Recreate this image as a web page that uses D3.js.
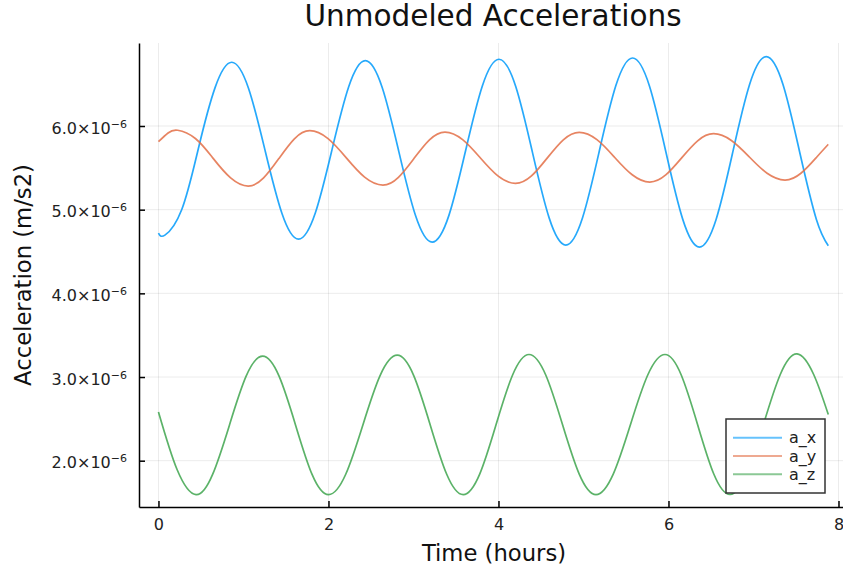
<!DOCTYPE html>
<html><head><meta charset="utf-8">
<script src="https://cdn.jsdelivr.net/npm/d3@7"></script>
<style>
body{margin:0;background:#fff}
svg{display:block;font-family:"DejaVu Sans",sans-serif}
</style>
</head><body>
<svg id="chart" width="843" height="568"></svg>
<script>
// ---- data (acceleration in units of 1e-6 m/s2, time in hours) ----
const seriesNames = ["a_x", "a_y", "a_z"];
const seriesColors = ["#009AFA", "#E36F47", "#3EA44E"];

const timeX = [0, 0.076, 0.273, 0.469, 0.666, 0.862, 1.059, 1.255, 1.452, 1.648, 1.845, 2.041, 2.238, 2.434, 2.631, 2.827, 3.024, 3.220, 3.417, 3.613, 3.810, 4.006, 4.203, 4.399, 4.596, 4.792, 4.989, 5.185, 5.382, 5.578, 5.775, 5.971, 6.168, 6.364, 6.561, 6.757, 6.954, 7.150, 7.347, 7.543, 7.740, 7.880];
const accelX = [4.720, 4.696, 4.999, 5.729, 6.459, 6.762, 6.452, 5.705, 4.958, 4.648, 4.960, 5.715, 6.469, 6.781, 6.463, 5.697, 4.930, 4.612, 4.932, 5.705, 6.478, 6.798, 6.473, 5.688, 4.902, 4.577, 4.904, 5.695, 6.486, 6.813, 6.482, 5.683, 4.884, 4.553, 4.886, 5.691, 6.496, 6.829, 6.496, 5.690, 4.884, 4.570];

const timeY = [0, 0.113, 0.226, 0.434, 0.641, 0.849, 1.056, 1.237, 1.418, 1.599, 1.780, 1.995, 2.210, 2.425, 2.640, 2.823, 3.005, 3.188, 3.370, 3.578, 3.785, 3.993, 4.200, 4.388, 4.575, 4.763, 4.950, 5.158, 5.365, 5.573, 5.780, 5.968, 6.155, 6.343, 6.530, 6.740, 6.950, 7.160, 7.370, 7.558, 7.745, 7.880];
const accelY = [5.812, 5.916, 5.949, 5.851, 5.616, 5.380, 5.282, 5.379, 5.613, 5.847, 5.944, 5.849, 5.619, 5.389, 5.294, 5.387, 5.611, 5.835, 5.928, 5.838, 5.621, 5.404, 5.314, 5.403, 5.619, 5.835, 5.924, 5.837, 5.627, 5.417, 5.330, 5.415, 5.619, 5.823, 5.908, 5.827, 5.631, 5.435, 5.354, 5.435, 5.630, 5.781];

const timeZ = [0, 0.220, 0.441, 0.637, 0.834, 1.030, 1.226, 1.420, 1.614, 1.807, 2.001, 2.203, 2.405, 2.607, 2.809, 3.003, 3.197, 3.391, 3.585, 3.779, 3.972, 4.166, 4.359, 4.556, 4.753, 4.950, 5.147, 5.350, 5.553, 5.756, 5.959, 6.150, 6.342, 6.533, 6.724, 6.921, 7.118, 7.315, 7.512, 7.708, 7.880];
const accelZ = [2.583, 1.892, 1.594, 1.836, 2.422, 3.007, 3.249, 3.007, 2.422, 1.836, 1.594, 1.838, 2.428, 3.017, 3.261, 3.017, 2.428, 1.838, 1.594, 1.839, 2.432, 3.024, 3.269, 3.024, 2.432, 1.839, 1.594, 1.839, 2.432, 3.024, 3.269, 3.024, 2.433, 1.841, 1.596, 1.842, 2.436, 3.030, 3.276, 3.030, 2.551];

const xTicks = [0, 2, 4, 6, 8];
const yTicks = [2, 3, 4, 5, 6];
const yTickMantissa = ["2.0", "3.0", "4.0", "5.0", "6.0"];
const yTickExponent = "−6";

const titleText = "Unmodeled Accelerations";
const xLabelText = "Time (hours)";
const yLabelText = "Acceleration (m/s2)";

// ---- layout ----
const svg = d3.select("#chart");
const plot = {left: 139, right: 843, top: 43, bottom: 507};
const x = d3.scaleLinear().domain([-0.229, 8.053]).range([plot.left, plot.right]);
const y = d3.scaleLinear().domain([1.4466, 6.992]).range([plot.bottom, plot.top]);

// grid
const grid = svg.append("g");
grid.selectAll("line.gx").data(xTicks).join("line")
  .attr("x1", d => x(d)).attr("x2", d => x(d))
  .attr("y1", plot.top).attr("y2", plot.bottom)
  .attr("stroke", "#000").attr("stroke-opacity", 0.08).attr("stroke-width", 1);
grid.selectAll("line.gy").data(yTicks).join("line")
  .attr("y1", d => y(d)).attr("y2", d => y(d))
  .attr("x1", plot.left).attr("x2", plot.right)
  .attr("stroke", "#000").attr("stroke-opacity", 0.08).attr("stroke-width", 1);

// series
const series = [
  {name: seriesNames[0], t: timeX, v: accelX, color: seriesColors[0]},
  {name: seriesNames[1], t: timeY, v: accelY, color: seriesColors[1]},
  {name: seriesNames[2], t: timeZ, v: accelZ, color: seriesColors[2]}
];
const line = d3.line().x(d => x(d[0])).y(d => y(d[1])).curve(d3.curveNatural);
svg.append("g").selectAll("path").data(series).join("path")
  .attr("d", s => line(s.t.map((t, i) => [t, s.v[i]])))
  .attr("fill", "none").attr("stroke", s => s.color)
  .attr("stroke-width", 1.7).attr("stroke-opacity", 0.85).attr("stroke-linejoin", "round");

// axes
const xAxis = svg.append("g").attr("transform", `translate(0,${plot.bottom})`)
  .call(d3.axisBottom(x).tickValues(xTicks).tickFormat(d3.format("d"))
    .tickSizeInner(-6).tickSizeOuter(0).tickPadding(12));
const yAxis = svg.append("g").attr("transform", `translate(${plot.left},0)`)
  .call(d3.axisLeft(y).tickValues(yTicks).tickSizeInner(-6).tickSizeOuter(0).tickPadding(12));
[xAxis, yAxis].forEach(a => {
  a.select(".domain").attr("stroke", "#000").attr("stroke-width", 1.5);
  a.selectAll(".tick line").attr("stroke", "#000").attr("stroke-width", 1.5);
  a.selectAll("text").attr("font-size", 16).attr("fill", "#222")
    .attr("font-family", "DejaVu Sans, sans-serif");
});
yAxis.selectAll(".tick text").each(function(d) {
  const t = d3.select(this);
  t.text(null).attr("dy", "0.45em");
  t.append("tspan").text(yTickMantissa[yTicks.indexOf(d)] + "×10");
  t.append("tspan").attr("dy", "-0.55em").attr("font-size", 11).text(yTickExponent);
});

// title & labels
svg.append("text").attr("x", (plot.left + plot.right) / 2 + 2).attr("y", 26)
  .attr("text-anchor", "middle").attr("font-size", 29.5).attr("fill", "#111").text(titleText);
svg.append("text").attr("x", (plot.left + plot.right) / 2 + 3).attr("y", 561)
  .attr("text-anchor", "middle").attr("font-size", 22.7).attr("fill", "#111").text(xLabelText);
svg.append("text").attr("transform", `translate(23,${(plot.top + plot.bottom) / 2}) rotate(-90)`)
  .attr("text-anchor", "middle").attr("dominant-baseline", "central")
  .attr("font-size", 22.7).attr("fill", "#111").text(yLabelText);

// legend
const legend = svg.append("g").attr("transform", "translate(726,419)");
legend.append("rect").attr("width", 99).attr("height", 74)
  .attr("fill", "#fff").attr("stroke", "#333").attr("stroke-width", 1.5);
const rows = legend.selectAll("g").data(series).join("g")
  .attr("transform", (d, i) => `translate(0,${18.7 + i * 18.3})`);
rows.append("line").attr("x1", 7).attr("x2", 56)
  .attr("stroke", d => d.color).attr("stroke-width", 2).attr("stroke-opacity", 0.6);
rows.append("text").attr("x", 63).attr("dy", "0.35em").attr("font-size", 16)
  .attr("fill", "#222").text(d => d.name);
</script>
</body></html>
